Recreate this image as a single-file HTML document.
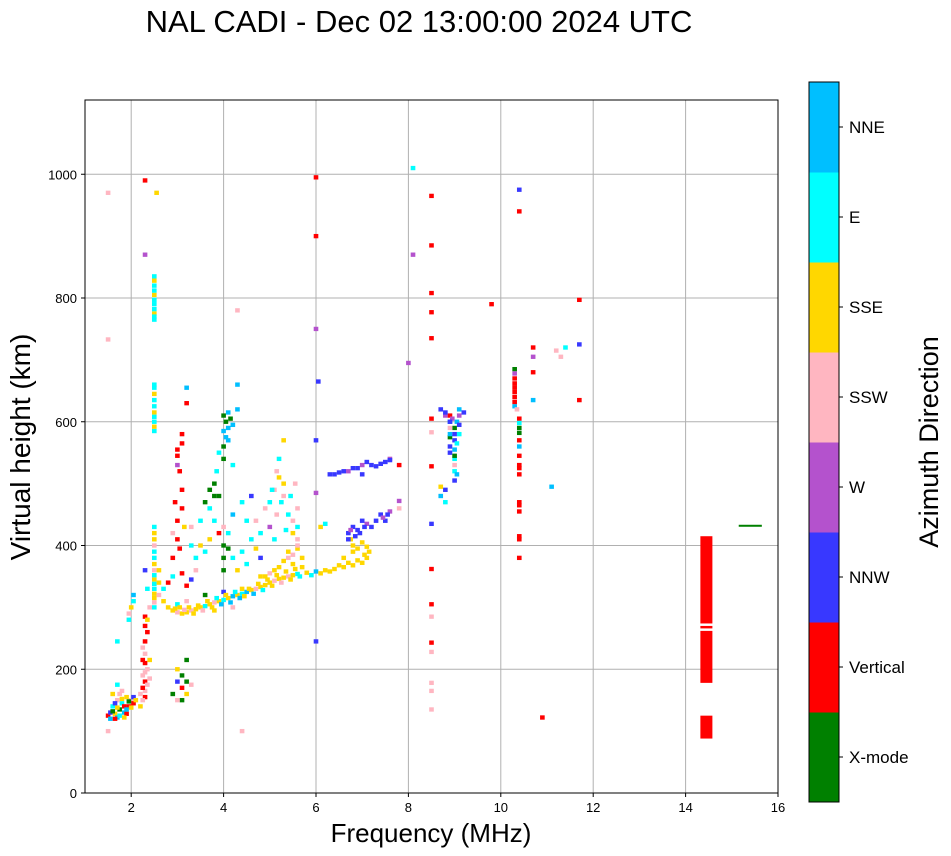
<!DOCTYPE html>
<html><head><meta charset="utf-8"><style>
body{margin:0;background:#fff;width:951px;height:856px;overflow:hidden;font-family:"Liberation Sans",sans-serif}
</style></head><body>
<svg id="chart" width="951" height="856" style="position:absolute;left:0;top:0">
<text x="419" y="32" text-anchor="middle" font-size="31">NAL CADI - Dec 02 13:00:00 2024 UTC</text>
<g id="grid"></g><g id="marks"></g>
<rect x="85" y="100" width="693" height="693" fill="none" stroke="#000" stroke-width="1"/>
<g id="axes"></g>
<text x="431" y="842" text-anchor="middle" font-size="26">Frequency (MHz)</text>
<text transform="translate(30,447) rotate(-90)" text-anchor="middle" font-size="28">Virtual height (km)</text>
<g id="cbar"></g>
<text transform="translate(938,442) rotate(-90)" text-anchor="middle" font-size="27">Azimuth Direction</text>
</svg>
<script>
const categories=["X-mode","Vertical","NNW","W","SSW","SSE","E","NNE"];
const catColors=["#008000","#ff0000","#3838ff","#b452cd","#ffb6c1","#ffd700","#00ffff","#00bfff"];
const xTicks=[2,4,6,8,10,12,14,16];
const yTicks=[0,200,400,600,800,1000];
// echoes: [freqMHz, heightKm, categoryIndex]
const lowTrace=[[1.5,125,1],[1.55,130,2],[1.6,140,6],[1.65,128,5],[1.7,150,4],[1.75,135,0],[1.8,145,6],[1.85,130,7],[1.9,155,5],[1.95,140,1],[2.0,150,4],[2.05,145,1],[1.6,160,5],[1.7,122,7],[1.8,165,4],[1.9,128,1],[1.5,100,4],[1.95,280,6],[2.0,300,5],[2.05,320,7],[1.5,970,4],[1.5,733,4],
[1.55,120,7],[1.6,132,0],[1.65,145,2],[1.7,138,5],[1.75,125,6],[1.8,152,5],[1.85,140,1],[1.9,135,7],[1.95,148,0],[2.0,138,5],[2.05,155,2],[1.65,120,1],[1.75,160,4],[1.85,122,5],[2.1,150,5],[1.95,290,4],[2.05,310,6],[1.7,175,6],[1.7,245,6]];
const eLayer=[[2.3,155,1],[2.3,165,4],[2.3,180,1],[2.3,195,4],[2.3,210,1],[2.3,225,4],[2.3,245,1],[2.3,270,1],[2.3,285,1],[2.35,175,4],[2.35,200,4],[2.2,160,4],[2.2,140,5],[2.3,360,2],[2.3,870,3],[2.3,990,1],[3.1,150,0],[3.1,170,1],[3.2,180,0],[3.2,215,0],[3.0,200,5],[2.9,160,0],[3.3,175,4],
[2.25,170,1],[2.25,190,4],[2.25,215,1],[2.25,235,4],[2.35,260,1],[2.35,280,5],[2.25,150,4],[2.4,185,4],[2.4,215,5],[3.0,180,2],[3.1,190,0],[3.2,160,5],[3.0,150,4],[2.4,300,4],[2.35,330,6]];
const col25=[[2.5,300,6],[2.5,315,5],[2.5,330,6],[2.5,345,5],[2.5,360,4],[2.5,380,6],[2.5,400,4],[2.5,420,5],[2.5,585,6],[2.5,600,6],[2.5,615,5],[2.5,635,6],[2.5,655,6],[2.5,765,6],[2.5,775,5],[2.5,790,6],[2.5,805,5],[2.5,820,6],[2.5,835,6],[2.55,970,5],
[2.5,308,4],[2.5,322,5],[2.5,338,6],[2.5,352,6],[2.5,370,5],[2.5,390,6],[2.5,410,5],[2.5,430,6],[2.5,592,5],[2.5,608,6],[2.5,625,6],[2.5,645,5],[2.5,660,6],[2.5,770,6],[2.5,782,6],[2.5,797,6],[2.5,812,6],[2.5,828,5],[2.6,340,5],[2.6,320,4],[2.6,360,5],[2.7,330,6],[2.7,310,5]];
const fTrace=[[2.8,300,5],[2.9,295,5],[3.0,292,4],[3.1,290,5],[3.2,292,5],[3.3,295,4],[3.4,297,5],[3.5,300,5],[3.6,302,6],[3.7,305,5],[3.8,308,4],[3.9,310,5],[4.0,312,6],[4.1,315,5],[4.2,318,7],[4.3,320,5],[4.4,322,6],[4.5,325,7],[4.6,328,5],[4.7,330,4],[4.8,333,5],[4.9,336,5],[5.0,340,5],[5.1,343,4],[5.2,346,5],[5.3,348,5],[5.4,350,4],[5.5,352,5],[5.6,354,6],[5.8,356,5],[6.0,358,7],[6.2,360,5],[6.4,362,5],[6.6,365,5],[6.8,368,5],[7.0,372,5],[7.1,380,5],[7.15,390,5],[6.8,390,5],[6.8,400,5],[7.0,405,5],[3.0,305,6],[3.2,310,4],[3.6,320,0],[4.0,325,2],[4.4,330,5],[5.0,355,4],[5.5,370,5],[5.4,380,4],[5.6,395,5],
[2.95,298,5],[3.05,300,5],[3.15,296,4],[3.25,300,5],[3.35,290,5],[3.45,303,5],[3.55,295,4],[3.65,310,5],[3.75,300,5],[3.85,315,6],[3.95,305,7],[4.05,320,5],[4.15,308,7],[4.25,325,6],[4.35,315,7],[4.45,318,5],[4.55,330,5],[4.65,322,7],[4.75,338,5],[4.85,328,6],[4.95,345,5],[5.05,335,5],[5.15,352,5],[5.25,340,4],[5.35,358,5],[5.45,345,5],[5.55,362,5],[5.65,350,6],[5.7,365,5],[5.9,352,6],[6.1,355,5],[6.3,358,5],[6.5,368,5],[6.7,372,5],[6.9,376,5],[7.05,385,5],[7.1,398,5],[6.75,410,5],[6.9,395,5],[6.6,380,5],[5.3,375,5],[5.4,390,5],[5.2,365,5],[5.5,385,4],[5.1,360,5],[4.9,350,5],[5.6,410,4],[5.7,380,5],[3.8,295,5],[4.2,300,4]];
const scatter=[[2.8,340,1],[2.9,380,1],[3.0,410,1],[3.0,440,1],[3.1,460,1],[3.1,490,1],[3.0,530,3],[3.0,555,1],[3.1,580,1],[3.2,630,1],[3.2,655,7],[2.9,350,6],[2.9,420,4],[3.3,345,2],[3.4,380,6],[3.5,400,5],[3.5,440,6],[3.6,470,0],[3.7,490,0],[3.8,500,0],[3.9,480,0],[3.8,440,6],[3.9,420,1],[4.0,400,0],[4.0,380,0],[4.0,360,0],[4.1,420,6],[4.2,450,7],[4.0,560,0],[4.0,585,7],[4.05,600,0],[4.1,615,7],[4.2,595,7],[4.3,660,7],[4.3,620,7],[4.2,530,6],[3.9,550,6],[4.4,470,6],[4.5,440,6],[4.6,480,2],[4.7,440,4],[5.0,470,6],[5.1,490,4],[5.2,510,5],[5.3,480,4],[5.4,450,6],[5.5,420,5],[5.6,400,4],[5.2,540,6],[5.3,570,5],[5.0,430,3],[5.1,410,6],[5.6,460,4],[4.8,380,2],[4.8,350,5],
[3.0,545,1],[3.05,520,1],[3.1,565,1],[2.95,470,1],[3.05,395,1],[3.15,430,5],[3.3,400,6],[3.3,430,4],[3.4,360,4],[3.6,390,6],[3.7,410,5],[3.7,460,6],[3.8,480,0],[3.85,520,6],[4.0,540,0],[4.05,575,7],[4.1,590,7],[4.15,605,0],[4.0,610,0],[4.1,570,7],[4.0,430,4],[4.1,395,0],[4.2,380,6],[4.3,360,5],[4.4,390,6],[4.6,410,6],[4.8,420,6],[4.9,460,4],[5.05,490,6],[5.15,450,4],[5.25,470,6],[5.3,500,5],[5.45,480,6],[5.5,440,4],[5.6,430,6],[5.55,500,4],[5.15,520,4],[5.35,425,6],[4.5,370,6],[4.7,395,5],[3.2,335,1],[3.1,355,1],[4.3,780,4],[4.4,100,4]];
const nnw=[[6.3,515,2],[6.5,518,2],[6.7,520,3],[6.9,525,2],[7.0,530,3],[7.1,535,2],[7.3,528,2],[7.5,535,2],[7.6,540,3],[7.8,530,1],[6.7,420,2],[6.8,430,2],[6.9,425,2],[7.0,440,2],[7.1,435,3],[7.2,430,2],[7.4,450,2],[7.5,440,2],[7.6,455,3],[7.8,460,4],[6.1,430,5],[6.0,570,2],[6.0,485,3],[6.05,665,2],[6.0,750,3],[6.0,900,1],[6.0,995,1],[8.0,695,3],[8.1,870,3],[8.1,1010,6],
[6.4,515,2],[6.6,520,2],[6.8,525,2],[7.2,530,2],[7.4,532,2],[7.6,538,2],[7.0,515,2],[6.7,410,2],[6.75,425,3],[6.85,415,2],[6.95,420,2],[7.05,430,2],[7.3,440,2],[7.55,450,2],[7.45,445,3],[6.0,245,2],[6.2,435,6],[7.8,472,3]];
const f9=[[8.7,620,2],[8.8,610,3],[8.9,600,7],[9.0,590,0],[9.0,570,2],[9.0,555,7],[9.0,540,6],[9.1,620,7],[9.2,615,2],[8.9,575,0],[8.9,550,2],[9.0,520,6],[9.0,505,2],[8.8,490,2],[8.7,480,7],[8.8,470,6],[8.7,495,5],[9.1,580,6],[8.9,610,1],[8.9,590,4],
[8.95,605,3],[9.05,600,7],[9.1,595,2],[8.9,580,7],[9.0,580,2],[9.05,565,6],[8.9,560,2],[9.0,545,0],[9.1,610,3],[8.8,615,2],[9.0,530,4],[9.05,515,7],[8.9,600,2]];
const col103=[[10.3,685,0],[10.3,670,1],[10.3,655,1],[10.3,640,1],[10.3,625,7],[10.35,620,4],[10.4,605,1],[10.4,590,0],[10.4,570,1],[10.4,545,1],[10.4,530,1],[10.4,515,1],[10.4,470,1],[10.4,455,1],[10.4,415,1],[10.4,380,1],[10.4,940,1],[10.4,975,2],[9.8,790,1],[10.7,720,1],[10.7,635,7],[10.7,680,1],[10.7,705,3],[11.1,495,7],[11.2,715,4],[11.4,720,6],[11.3,705,4],[11.7,635,1],[11.7,725,2],[11.7,797,1],[10.9,122,1],
[10.3,662,1],[10.3,648,1],[10.3,632,1],[10.3,678,3],[10.4,598,6],[10.4,582,0],[10.4,560,7],[10.4,525,1],[10.4,410,1],[10.4,465,1]];
const col85=[[8.5,965,1],[8.5,885,1],[8.5,808,1],[8.5,777,1],[8.5,735,1],[8.5,605,1],[8.5,583,4],[8.5,528,1],[8.5,435,2],[8.5,362,1],[8.5,305,1],[8.5,285,4],[8.5,243,1],[8.5,228,4],[8.5,178,4],[8.5,165,4],[8.5,135,4]];
const blocks=[[14.45,178,262,1],[14.45,266,270,1],[14.45,274,415,1],[14.45,88,125,1]]; // [freq, h0, h1, cat]
const greenLine=[[15.4,430,0]];
const allEchoes=[lowTrace,eLayer,col25,fTrace,scatter,nnw,f9,col103,col85];

const X0=85,X1=778,Y0=793,Y1=100,FMIN=1,FMAX=16,HMIN=0,HMAX=1120;
const xs=f=>X0+(f-FMIN)/(FMAX-FMIN)*(X1-X0);
const ys=h=>Y0-(h-HMIN)/(HMAX-HMIN)*(Y0-Y1);
const NS="http://www.w3.org/2000/svg";
function mk(tag,attrs,parent){const e=document.createElementNS(NS,tag);for(const k in attrs)e.setAttribute(k,attrs[k]);parent.appendChild(e);return e;}
const grid=document.getElementById('grid'),axes=document.getElementById('axes'),marks=document.getElementById('marks'),cbar=document.getElementById('cbar');
xTicks.forEach(t=>{const x=xs(t);
 if(t<FMAX){const g=mk('line',{x1:x,x2:x,y1:Y1,y2:Y0,stroke:'#b0b0b0','stroke-width':1},grid);}
 const tk=mk('line',{x1:x,x2:x,y1:Y0,y2:Y0+4,stroke:'#000'},axes);
 const l=mk('text',{x:x,y:Y0+19,'text-anchor':'middle','font-size':13},axes);l.textContent=t;});
yTicks.forEach(t=>{const y=ys(t);
 if(t>0){const g=mk('line',{x1:X0,x2:X1,y1:y,y2:y,stroke:'#b0b0b0','stroke-width':1},grid);}
 const tk=mk('line',{x1:X0-4,x2:X0,y1:y,y2:y,stroke:'#000'},axes);
 const l=mk('text',{x:X0-8,y:y+5,'text-anchor':'end','font-size':13},axes);l.textContent=t;});
const W=0.1,H=7;
allEchoes.concat([greenLine]).forEach(arr=>arr.forEach(([f,h,c])=>{
 const w=arr===greenLine?0.5:W;
 const r=mk('rect',{x:xs(f-w/2),y:ys(h+H/2),width:xs(f+w/2)-xs(f-w/2),height:arr===greenLine?2:ys(h-H/2)-ys(h+H/2),fill:catColors[c]},marks);
 
 }));
blocks.forEach(([f,h0,h1,c])=>{
 const r=mk('rect',{x:xs(f-0.13),y:ys(h1),width:xs(f+0.13)-xs(f-0.13),height:ys(h0)-ys(h1),fill:catColors[c]},marks);
 
 });
const CB_X=809,CB_W=30,CB_T=82,CB_B=802,n=categories.length,seg=(CB_B-CB_T)/n;
categories.forEach((name,i)=>{const y=CB_B-(i+1)*seg;
 const r=mk('rect',{x:CB_X,y:y,width:CB_W,height:seg+0.5,fill:catColors[i]},cbar);
 
 
 const tk=mk('line',{x1:CB_X+CB_W,x2:CB_X+CB_W+4,y1:y+seg/2,y2:y+seg/2,stroke:'#000'},cbar);
 
 
 const l=mk('text',{x:CB_X+CB_W+10,y:y+seg/2+6,'font-size':17},cbar);l.textContent=name;
 
 });
const fr=mk('rect',{x:CB_X,y:CB_T,width:CB_W,height:CB_B-CB_T,fill:'none',stroke:'#000'},cbar);


</script>
</body></html>
